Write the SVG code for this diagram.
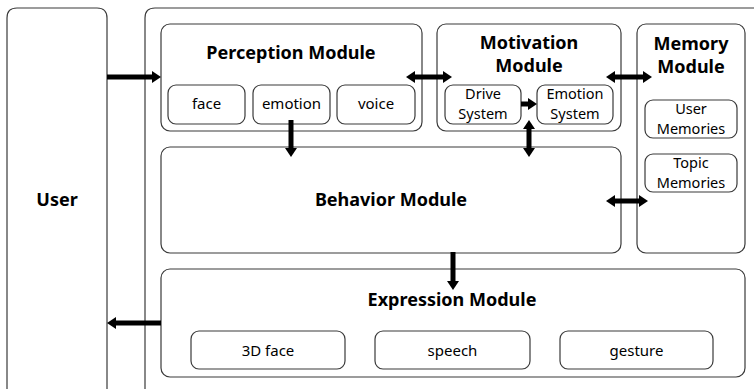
<svg xmlns="http://www.w3.org/2000/svg" width="754" height="389" viewBox="0 0 754 389">
<style>
.box{fill:#fff;stroke:#3a3a3a;stroke-width:1.2}
.frame{fill:none;stroke:#3a3a3a;stroke-width:1.2}
.t{font-family:"Noto Sans","Open Sans",sans-serif;font-weight:bold;font-size:18px;fill:#000;text-anchor:middle}
.s{font-family:"Noto Sans","Open Sans",sans-serif;font-size:15px;fill:#000;text-anchor:middle}
.s2{font-family:"Noto Sans","Open Sans",sans-serif;font-size:14.5px;fill:#000;text-anchor:middle}
.c{stroke:#000;stroke-width:5;fill:none}
</style>
<defs>
<marker id="ah" markerUnits="userSpaceOnUse" markerWidth="10" markerHeight="14" refX="0" refY="7" orient="auto-start-reverse">
<path d="M0,1 L9,7 L0,13 z" fill="#000"/>
</marker>
</defs>
<rect width="754" height="389" fill="#fff"/>
<g id="user">
<path class="frame" d="M7,390 V18 Q7,8 17,8 H97 Q107,8 107,18 V390"/>
<text class="t" x="57" y="206">User</text>
</g>
<g id="system">
<path class="frame" d="M145,390 V18 Q145,8 155,8 H755"/>
</g>
<g id="perception">
<rect class="box" x="161" y="24" width="261" height="107" rx="9"/>
<text class="t" x="291" y="59">Perception Module</text>
<g id="face"><rect class="box" x="168" y="85" width="77" height="39" rx="8"/><text class="s" x="206.5" y="109">face</text></g>
<g id="emotion"><rect class="box" x="253" y="85" width="77" height="39" rx="8"/><text class="s" x="291.5" y="109">emotion</text></g>
<g id="voice"><rect class="box" x="337" y="85" width="78" height="39" rx="8"/><text class="s" x="376" y="109">voice</text></g>
</g>
<g id="motivation">
<rect class="box" x="437" y="24" width="184" height="107" rx="9"/>
<text class="t" x="529" y="49">Motivation</text>
<text class="t" x="529" y="72">Module</text>
<g id="drive"><rect class="box" x="445" y="85" width="76" height="39" rx="8"/><text class="s2" x="483" y="99">Drive</text><text class="s2" x="483" y="118.5">System</text></g>
<g id="emotionsys"><rect class="box" x="537" y="85" width="76" height="39" rx="8"/><text class="s2" x="575" y="99">Emotion</text><text class="s2" x="575" y="118.5">System</text></g>
</g>
<g id="memory">
<rect class="box" x="637" y="24" width="108" height="229" rx="9"/>
<text class="t" x="691" y="50">Memory</text>
<text class="t" x="691" y="73">Module</text>
<g id="usermem"><rect class="box" x="645" y="100" width="92" height="38" rx="8"/><text class="s2" x="691" y="114">User</text><text class="s2" x="691" y="133.5">Memories</text></g>
<g id="topicmem"><rect class="box" x="645" y="154" width="92" height="38" rx="8"/><text class="s2" x="691" y="168">Topic</text><text class="s2" x="691" y="187.5">Memories</text></g>
</g>
<g id="behavior">
<rect class="box" x="161" y="147" width="460" height="106" rx="9"/>
<text class="t" x="391" y="206">Behavior Module</text>
</g>
<g id="expression">
<rect class="box" x="161" y="269" width="584" height="108" rx="9"/>
<text class="t" x="452" y="306">Expression Module</text>
<g id="face3d"><rect class="box" x="191" y="331" width="154" height="38" rx="8"/><text class="s" x="268" y="356">3D face</text></g>
<g id="speech"><rect class="box" x="375" y="331" width="155" height="38" rx="8"/><text class="s" x="452.5" y="356">speech</text></g>
<g id="gesture"><rect class="box" x="560" y="331" width="153" height="38" rx="8"/><text class="s" x="636.5" y="356">gesture</text></g>
</g>
<g id="connectors">
<path class="c" d="M107,77 H152" marker-end="url(#ah)"/>
<path class="c" d="M415,77 H443" marker-start="url(#ah)" marker-end="url(#ah)"/>
<path class="c" d="M521,104 H528" marker-end="url(#ah)"/>
<path class="c" d="M529,129 V148" marker-start="url(#ah)" marker-end="url(#ah)"/>
<path class="c" d="M291,120 V148" marker-end="url(#ah)"/>
<path class="c" d="M615,77 H643" marker-start="url(#ah)" marker-end="url(#ah)"/>
<path class="c" d="M615,201 H639" marker-start="url(#ah)" marker-end="url(#ah)"/>
<path class="c" d="M453,252 V281" marker-end="url(#ah)"/>
<path class="c" d="M161,323 H116" marker-end="url(#ah)"/>
</g>
</svg>
